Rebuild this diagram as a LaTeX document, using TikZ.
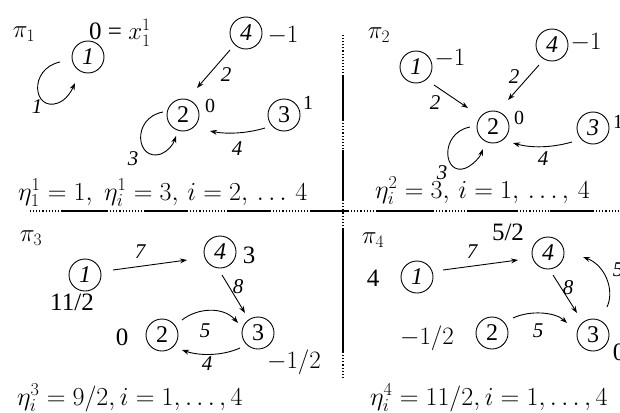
\RequirePackage{fix-cm}
\documentclass[tikz,border=0pt]{standalone}
\usepackage{fontspec}
\setmainfont{Liberation Serif}
\usetikzlibrary{calc,arrows.meta}
\begin{document}
\begin{tikzpicture}[x=1pt,y=-1pt,
  vtx/.style={circle,draw,line width=0.9pt,minimum size=32pt,inner sep=0pt,font=\fontsize{24}{26}\selectfont},
  elab/.style={font=\fontsize{21}{23}\selectfont\itshape,inner sep=0pt},
  val/.style={font=\fontsize{25}{27}\selectfont,inner sep=0pt},
  sval/.style={font=\fontsize{20}{22}\selectfont,inner sep=0pt},
  arr/.style={line width=0.9pt,-{Stealth[length=7pt,width=5pt]}},
  solidseg/.style={line width=1.6pt},
  dotseg/.style={line width=1.1pt,dotted},
  frm/.style={font=\fontsize{26}{28}\selectfont,inner sep=0pt,anchor=base west}
]
\useasboundingbox (0,0) rectangle (620,412);
\fill[white] (0,0) rectangle (620,412);

% dividers
\foreach \a/\b in {30/62,107/145,187/227,270/310,348/377,433/467,517/550,593/620}
  \draw[dotseg] (\a,211) -- (\b,211);
\foreach \a/\b in {62/107,145/187,227/270,310/348,377/433,467/517,550/593}
  \draw[solidseg] (\a,211) -- (\b,211);
\foreach \a/\b in {35/75,120/150,200/228,352/378}
  \draw[dotseg] (343,\a) -- (343,\b);
\foreach \a/\b in {75/120,150/200,228/352}
  \draw[solidseg] (343,\a) -- (343,\b);

% ---------- pi_1 ----------
\node[val] (p1) at (24,34) {$\pi_1$};
\node[vtx] (a1) at (88,57) {\itshape 1};
\node[vtx] (a4) at (246,33) {\itshape 4};
\node[vtx] (a2) at (183,115) {2};
\node[vtx] (a3) at (284,115) {3};
\node[val,anchor=base west] (a1v) at (89,40) {0 = $x^1_1$};
\node[val] (a4v) at (283,35) {$-1$};
\node[sval] (a2v) at (210,106) {0};
\node[sval] (a3v) at (308,103) {1};
\draw[arr] ($(a1)+(-28,5)$) .. controls ($(a1)+(-60,12)$) and ($(a1)+(-55,55)$) .. ($(a1)+(-30,46)$) .. controls ($(a1)+(-22,43)$) and ($(a1)+(-17,35)$) .. ($(a1)+(-13,26)$);
\node[elab] (a11) at (37,107) {1};
\draw[arr] ($(a4)+(-16,17)$) -- ($(a2)+(14,-27)$);
\node[elab] (a42) at (226,75) {2};
\draw[arr] ($(a3)+(-19,13)$) .. controls ($(a3)+(-39,19)$) and ($(a2)+(42,19)$) .. ($(a2)+(27,16)$);
\node[elab] (a32) at (237,149) {4};
\draw[arr] ($(a2)+(-20,-3)$) .. controls ($(a2)+(-52,3)$) and ($(a2)+(-47,47)$) .. ($(a2)+(-22,39)$) .. controls ($(a2)+(-15,36)$) and ($(a2)+(-10,30)$) .. ($(a2)+(-7,21)$);
\node[elab] (a22) at (133,159) {3};
\node[frm] (f1) at (18,200) {$\eta^1_1 = 1,\; \eta^1_i = 3,\, i = 2,\, \ldots\, 4$};

% ---------- pi_2 ----------
\node[val] (p2) at (379,35) {$\pi_2$};
\node[vtx] (b1) at (416,67) {\itshape 1};
\node[vtx] (b4) at (552,45) {\itshape 4};
\node[vtx] (b2) at (493,127) {2};
\node[vtx] (b3) at (593,128) {\itshape 3};
\node[val] (b1v) at (450,58) {$-1$};
\node[val] (b4v) at (586,42) {$-1$};
\node[sval] (b2v) at (519,118) {0};
\node[sval] (b3v) at (618,122) {1};
\draw[arr] ($(b1)+(18,18)$) -- ($(b2)+(-25,-19)$);
\node[elab] (b12) at (435,103) {2};
\draw[arr] ($(b4)+(-13,20)$) -- ($(b2)+(15,-27)$);
\node[elab] (b42) at (514,77) {2};
\draw[arr] ($(b3)+(-21,14)$) .. controls ($(b3)+(-42,20)$) and ($(b2)+(38,21)$) .. ($(b2)+(20,16)$);
\node[elab] (b32) at (543,159) {4};
\draw[arr] ($(b2)+(-23,0)$) .. controls ($(b2)+(-54,6)$) and ($(b2)+(-50,50)$) .. ($(b2)+(-27,41)$) .. controls ($(b2)+(-19,37)$) and ($(b2)+(-13,30)$) .. ($(b2)+(-10,22)$);
\node[elab] (b22) at (442,173) {3};
\node[frm] (f2) at (375,198) {$\eta^2_i = 3,\, i = 1,\, \ldots,\, 4$};

% ---------- pi_3 ----------
\node[val] (p3) at (31,238) {$\pi_3$};
\node[vtx] (c1) at (85,275) {\itshape 1};
\node[vtx] (c4) at (220,252) {\itshape 4};
\node[vtx] (c2) at (162,335) {2};
\node[vtx] (c3) at (258,333) {3};
\node[val] (c1v) at (72,302) {11/2};
\node[val] (c4v) at (249,255) {3};
\node[val] (c2v) at (122,337) {0};
\node[val] (c3v) at (294,362) {$-1/2$};
\draw[arr] ($(c1)+(28,-5)$) -- ($(c4)+(-33,8)$);
\node[elab] (c14) at (140,252) {7};
\draw[arr] ($(c4)+(2,23)$) -- ($(c3)+(-13,-20)$);
\node[elab] (c43) at (238,287) {8};
\draw[arr] ($(c2)+(20,-15)$) .. controls ($(c2)+(35,-27)$) and ($(c3)+(-35,-27)$) .. ($(c3)+(-20,-10)$);
\node[elab] (c23) at (205,331) {5};
\draw[arr] ($(c3)+(-18,15)$) .. controls ($(c3)+(-36,23)$) and ($(c2)+(38,21)$) .. ($(c2)+(20,15)$);
\node[elab] (c32) at (207,364) {4};
\node[frm] (f3) at (17,405) {$\eta^3_i = 9/2, i = 1, \ldots, 4$};

% ---------- pi_4 ----------
\node[val] (p4) at (373,240) {$\pi_4$};
\node[vtx] (d1) at (417,277) {\itshape 1};
\node[vtx] (d4) at (548,253) {\itshape 4};
\node[vtx] (d2) at (492,333) {2};
\node[vtx] (d3) at (593,335) {3};
\node[val] (d4v) at (508,232) {5/2};
\node[val] (d1v) at (373,278) {4};
\node[val] (d2v) at (427,338) {$-1/2$};
\node[val] (d3v) at (619,352) {0};
\draw[arr] ($(d1)+(26,-7)$) -- ($(d4)+(-30,7)$);
\node[elab] (d14) at (472,252) {7};
\draw[arr] ($(d4)+(5,22)$) -- ($(d3)+(-16,-22)$);
\node[elab] (d43) at (568,288) {8};
\draw[arr] ($(d2)+(21,-15)$) .. controls ($(d2)+(38,-23)$) and ($(d3)+(-38,-23)$) .. ($(d3)+(-26,-12)$);
\node[elab] (d23) at (538,331) {5};
\draw[arr] ($(d3)+(14,-28)$) .. controls ($(d3)+(22,-45)$) and ($(d4)+(57,12)$) .. ($(d4)+(35,4)$);
\node[elab] (d34) at (618,270) {5};
\node[frm] (f4) at (370,405) {$\eta^4_i = 11/2, i = 1, \ldots, 4$};
\end{tikzpicture}
\end{document}
